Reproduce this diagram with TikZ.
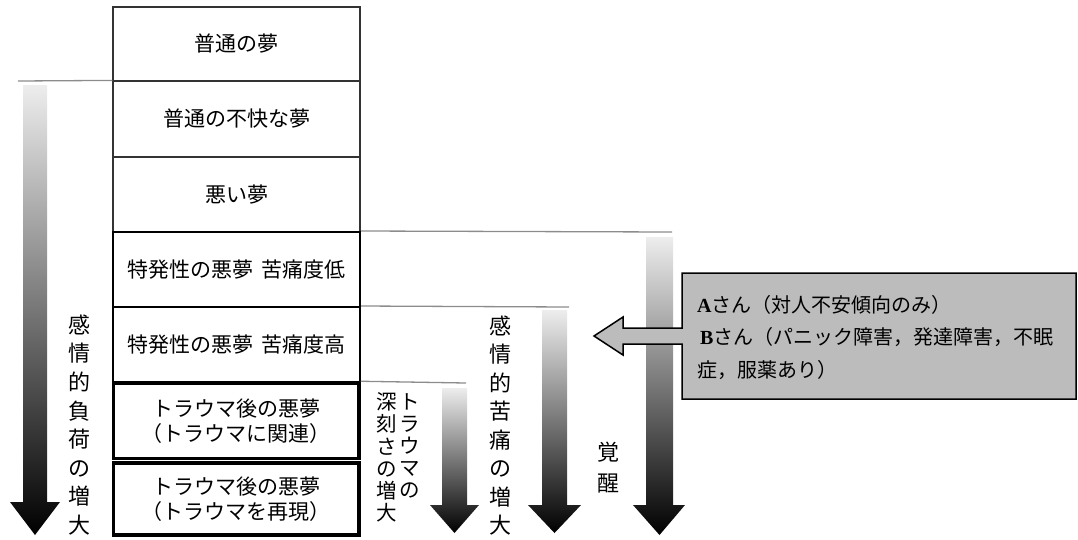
\documentclass[tikz,border=0pt]{standalone}
\usepackage{fontspec}
\newfontfamily\jp{Noto Sans CJK JP}
\newfontfamily\serf{Liberation Serif}
\definecolor{calloutgray}{RGB}{188,188,188}
\definecolor{levelline}{RGB}{140,140,140}
\newcommand\gradarrow[7]{%
  \shade[top color=black!7, middle color=black!36, bottom color=black]
    (#1,#3) -- (#2,#3) -- (#2,#6) -- (#5,#6) -- ({(#1+#2)/2},#7) -- (#4,#6) -- (#1,#6) -- cycle;}
\begin{document}
\begin{tikzpicture}[x=1pt,y=-1pt,
  rowbox/.style={draw=black!80, line width=1.2pt, minimum width=247pt, inner sep=0pt,
    align=center, font=\jp\fontsize{21}{25}\selectfont},
  rowmid/.style={rowbox, draw=black, line width=2pt},
  rowthick/.style={rowbox, draw=black, line width=3.5pt, minimum width=245.6pt},
  levelrule/.style={draw=levelline, line width=1.3pt},
  vtext/.style={align=center, inner sep=0pt},
  calltext/.style={anchor=west, align=left, inner sep=0pt, font=\jp\fontsize{20}{32.5}\selectfont}]
\useasboundingbox (0,0) rectangle (1078,539);

% dream rows
\node[rowbox, minimum height=74pt] (r1) at (236.5,44) {普通の夢};
\node[rowbox, minimum height=76pt] (r2) at (236.5,119) {普通の不快な夢};
\node[rowbox, minimum height=75pt] (r3) at (236.5,194.5) {悪い夢};
\node[rowmid, minimum height=75pt] (r4) at (236.5,269.5) {特発性の悪夢\hspace{0.4em}苦痛度低};
\node[rowmid, minimum height=76pt] (r5) at (236.5,345) {特発性の悪夢\hspace{0.4em}苦痛度高};
\node[rowthick, minimum height=75.7pt] (r6) at (236.2,420.85) {トラウマ後の悪夢\\（トラウマに関連）};
\node[rowthick, minimum height=72pt] (r7) at (236.2,499) {トラウマ後の悪夢\\（トラウマを再現）};

% level lines
\coordinate (l1) at (18,81);
\coordinate (l4) at (672,232);
\coordinate (l5) at (569,307);
\coordinate (l6) at (466,383);
\draw[levelrule] (l1) -- (r2.north west);
\draw[levelrule] (r4.north east) -- (l4);
\draw[levelrule] (r5.north east) -- (l5);
\draw[levelrule] (r6.north east) -- (l6);

% gradient arrows
\gradarrow{23}{47}{85}{10}{60}{502}{535}
\gradarrow{442}{467}{388}{430}{479}{505}{533}
\gradarrow{542}{567}{310}{528}{581}{505}{533}
\gradarrow{646}{673}{237}{633}{685}{505}{535}

% vertical labels
\node[vtext, font=\jp\fontsize{22}{28.6}\selectfont] (v1) at (79,425) {感\\情\\的\\負\\荷\\の\\増\\大};
\node[vtext, font=\jp\fontsize{20.5}{22}\selectfont] (v2) at (410,446) {ト\\ラ\\ウ\\マ\\の};
\node[vtext, font=\jp\fontsize{20.5}{22.2}\selectfont] (v3) at (387,457.5) {深\\刻\\さ\\の\\増\\大};
\node[vtext, font=\jp\fontsize{22}{28.5}\selectfont] (v4) at (500,425.5) {感\\情\\的\\苦\\痛\\の\\増\\大};
\node[vtext, font=\jp\fontsize{22}{31}\selectfont] (v5) at (608,467.5) {覚\\醒};

% callout
\filldraw[fill=calloutgray, draw=black, line width=1.5pt, line join=miter]
  (682,273) -- (1076,273) -- (1076,399) -- (682,399) -- (682,344) -- (623,344)
  -- (623,355) -- (594,336) -- (623,317) -- (623,328) -- (682,328) -- cycle;
\node[calltext] (ctext) at (697,337.5) {{\serf\bfseries A}さん（対人不安傾向のみ）\\\hspace{3pt}{\serf\bfseries B}さん（パニック障害，発達障害，不眠\\症，服薬あり）};
\end{tikzpicture}
\end{document}
